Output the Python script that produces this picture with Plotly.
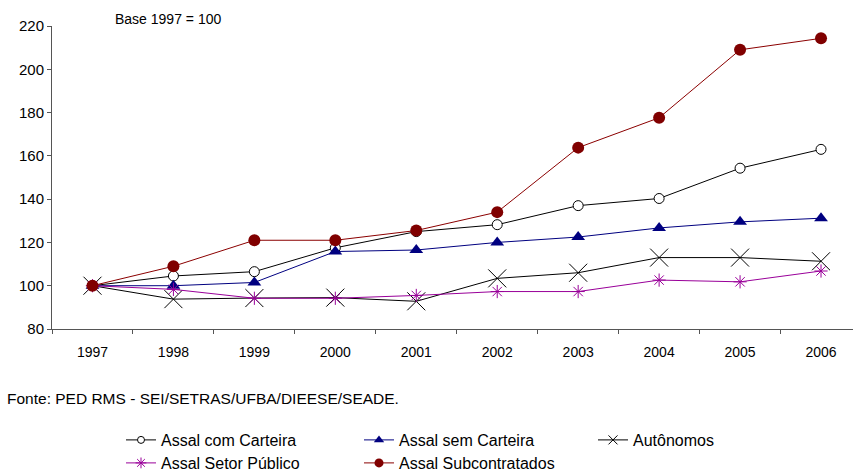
import plotly.graph_objects as go

anos = ["1997", "1998", "1999", "2000", "2001", "2002", "2003", "2004", "2005", "2006"]

com_carteira = [100, 104.5, 106.5, 117.5, 125.0, 128.2, 137.0, 140.3, 154.3, 163.0]
sem_carteira = [100, 100.0, 101.5, 115.8, 116.5, 120.0, 122.5, 126.7, 129.5, 131.2]
autonomos = [100, 93.8, 94.3, 94.5, 92.8, 103.4, 106.0, 113.0, 113.0, 111.3]
setor_publico = [100, 98.3, 94.2, 94.2, 95.5, 97.3, 97.3, 102.6, 101.8, 106.8]
subcontratados = [100, 109.0, 121.0, 121.0, 125.5, 134.0, 163.8, 177.6, 209.0, 214.3]

FONT = "Liberation Sans, Arial"
AXIS_GREY = "#555555"

# (name, values, line colour, marker symbol, chart marker size, legend marker size, marker style, legend)
series = [
    ("Assal com Carteira", com_carteira, "#000000", "circle", 10, 7,
     dict(color="white", line=dict(color="#000000", width=1)), "legend"),
    ("Assal sem Carteira", sem_carteira, "#000080", "triangle-up", 12, 9,
     dict(color="#000080"), "legend"),
    ("Autônomos", autonomos, "#000000", "x-thin", 18, 9,
     dict(line=dict(color="#000000", width=1)), "legend3"),
    ("Assal Setor Público", setor_publico, "#990099", "asterisk", 11, 9,
     dict(line=dict(color="#990099", width=1)), "legend2"),
    ("Assal Subcontratados", subcontratados, "#8B0000", "circle", 12, 9,
     dict(color="#800000"), "legend2"),
]

fig = go.Figure()
for name, vals, col, sym, size, lsize, mstyle, leg in series:
    fig.add_trace(go.Scatter(
        x=anos, y=vals, name=name, mode="lines+markers", showlegend=False,
        line=dict(color=col, width=1),
        marker=dict(symbol=sym, size=size, **mstyle)))
    # legend entry with a smaller sample marker
    fig.add_trace(go.Scatter(
        x=[None], y=[None], name=name, mode="lines+markers", legend=leg,
        line=dict(color=col, width=1),
        marker=dict(symbol=sym, size=lsize, **mstyle)))

ml, mr, mt, mb = 51.5, 0, 26, 144
W, H = 853, 473
pw, ph = W - ml - mr, H - mt - mb


def px_to_paper(px, py):
    return (px - ml) / pw, (H - py - mb) / ph


bx, by = px_to_paper(113, 19)
fig.add_annotation(text="Base 1997 = 100", x=bx, y=by, xref="paper", yref="paper",
                   showarrow=False, xanchor="left", yanchor="middle",
                   font=dict(family=FONT, size=14, color="#000000"))
fx, fy = px_to_paper(4, 398)
fig.add_annotation(text="Fonte: PED RMS - SEI/SETRAS/UFBA/DIEESE/SEADE.", x=fx, y=fy,
                   xref="paper", yref="paper", showarrow=False, xanchor="left", yanchor="middle",
                   font=dict(family=FONT, size=15.5, color="#000000"))

legend_common = dict(orientation="h", xanchor="left", yanchor="middle",
                     xref="container", yref="container",
                     font=dict(family=FONT, size=16, color="#000000"),
                     bgcolor="rgba(0,0,0,0)", entrywidth=193, entrywidthmode="pixels",
                     itemsizing="trace", tracegroupgap=0)

fig.update_layout(
    width=W, height=H,
    margin=dict(l=ml, r=mr, t=mt, b=mb),
    paper_bgcolor="white", plot_bgcolor="white",
    showlegend=True,
    legend=dict(x=121 / W, y=1 - 440 / H, **legend_common),
    legend3=dict(x=593 / W, y=1 - 440 / H, **legend_common),
    legend2=dict(x=121 / W, y=1 - 463 / H, **legend_common),
    xaxis=dict(type="category", range=[-0.5, 9.395], showgrid=False, zeroline=False,
               showline=True, linecolor=AXIS_GREY, linewidth=1,
               ticks="outside", tickson="boundaries", ticklen=4, tickcolor=AXIS_GREY,
               ticklabelstandoff=10,
               tickfont=dict(family=FONT, size=14, color="#000000")),
    yaxis=dict(range=[80, 220], dtick=20, showgrid=False, zeroline=False,
               showline=True, linecolor=AXIS_GREY, linewidth=1,
               ticks="outside", ticklen=4, tickcolor=AXIS_GREY,
               tickfont=dict(family=FONT, size=15, color="#000000")),
)

fig.write_html("out.html")
